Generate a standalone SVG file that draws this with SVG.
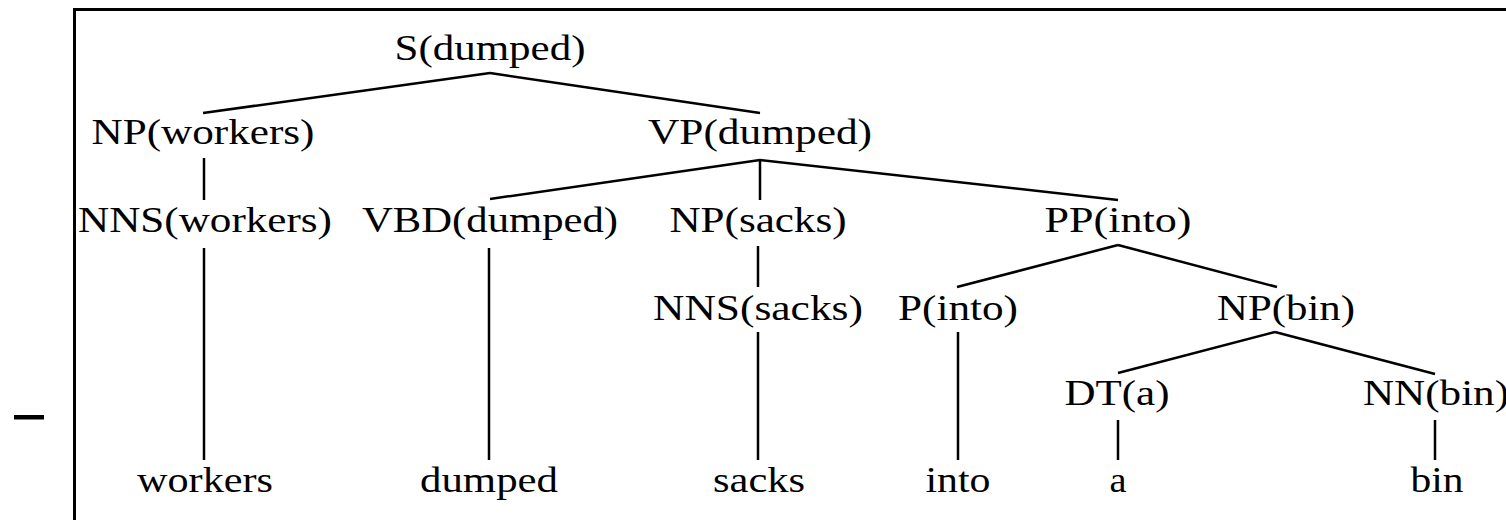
<svg xmlns="http://www.w3.org/2000/svg" width="1506" height="520" viewBox="0 0 1506 520">
<style>
text{font-family:"Liberation Serif","Times New Roman",serif;font-size:35px;fill:#000;text-anchor:middle}
.c line{stroke:#000;stroke-width:2.5;stroke-linecap:butt}
</style>
<rect width="1506" height="520" fill="#fff"/>
<g id="frame">
<path d="M74.5 522 V9.5 H1508" fill="none" stroke="#000" stroke-width="3"/>
<rect x="14" y="415" width="30" height="4.5" fill="#000"/>
</g>
<g class="c" id="connectors">
<line x1="490" y1="73" x2="203" y2="113"/>
<line x1="490" y1="73" x2="760" y2="113"/>
<line x1="204" y1="158" x2="204" y2="200"/>
<line x1="760" y1="160" x2="490" y2="199"/>
<line x1="760" y1="160" x2="760" y2="200"/>
<line x1="760" y1="160" x2="1118" y2="200"/>
<line x1="204" y1="248" x2="204" y2="460"/>
<line x1="489" y1="248" x2="489" y2="460"/>
<line x1="758" y1="246" x2="758" y2="287"/>
<line x1="1118" y1="245" x2="957" y2="287"/>
<line x1="1118" y1="245" x2="1277" y2="287"/>
<line x1="758" y1="332" x2="758" y2="460"/>
<line x1="958" y1="332" x2="958" y2="460"/>
<line x1="1275" y1="332" x2="1118" y2="373"/>
<line x1="1275" y1="332" x2="1435" y2="374"/>
<line x1="1118" y1="420" x2="1118" y2="460"/>
<line x1="1435" y1="420" x2="1435" y2="460"/>
</g>
<g id="n-S"><text x="490" y="60" textLength="191" lengthAdjust="spacingAndGlyphs">S(dumped)</text></g>
<g id="n-NPw"><text x="203" y="144" textLength="223" lengthAdjust="spacingAndGlyphs">NP(workers)</text></g>
<g id="n-VP"><text x="760" y="144" textLength="224" lengthAdjust="spacingAndGlyphs">VP(dumped)</text></g>
<g id="n-NNSw"><text x="205" y="232" textLength="254" lengthAdjust="spacingAndGlyphs">NNS(workers)</text></g>
<g id="n-VBD"><text x="490" y="232" textLength="256" lengthAdjust="spacingAndGlyphs">VBD(dumped)</text></g>
<g id="n-NPs"><text x="758" y="232" textLength="177" lengthAdjust="spacingAndGlyphs">NP(sacks)</text></g>
<g id="n-PP"><text x="1118" y="232" textLength="147" lengthAdjust="spacingAndGlyphs">PP(into)</text></g>
<g id="n-NNSs"><text x="758" y="320" textLength="210" lengthAdjust="spacingAndGlyphs">NNS(sacks)</text></g>
<g id="n-P"><text x="958" y="320" textLength="120" lengthAdjust="spacingAndGlyphs">P(into)</text></g>
<g id="n-NPb"><text x="1286" y="320" textLength="138" lengthAdjust="spacingAndGlyphs">NP(bin)</text></g>
<g id="n-DT"><text x="1117" y="405" textLength="105" lengthAdjust="spacingAndGlyphs">DT(a)</text></g>
<g id="n-NN"><text x="1363" y="405" style="text-anchor:start" textLength="146" lengthAdjust="spacingAndGlyphs">NN(bin)</text></g>
<g id="w-workers"><text x="205" y="492" textLength="136" lengthAdjust="spacingAndGlyphs">workers</text></g>
<g id="w-dumped"><text x="489" y="492" textLength="138" lengthAdjust="spacingAndGlyphs">dumped</text></g>
<g id="w-sacks"><text x="759" y="492" textLength="92" lengthAdjust="spacingAndGlyphs">sacks</text></g>
<g id="w-into"><text x="958" y="492" textLength="65" lengthAdjust="spacingAndGlyphs">into</text></g>
<g id="w-a"><text x="1118" y="492" textLength="17" lengthAdjust="spacingAndGlyphs">a</text></g>
<g id="w-bin"><text x="1437" y="492" textLength="53" lengthAdjust="spacingAndGlyphs">bin</text></g>
</svg>
